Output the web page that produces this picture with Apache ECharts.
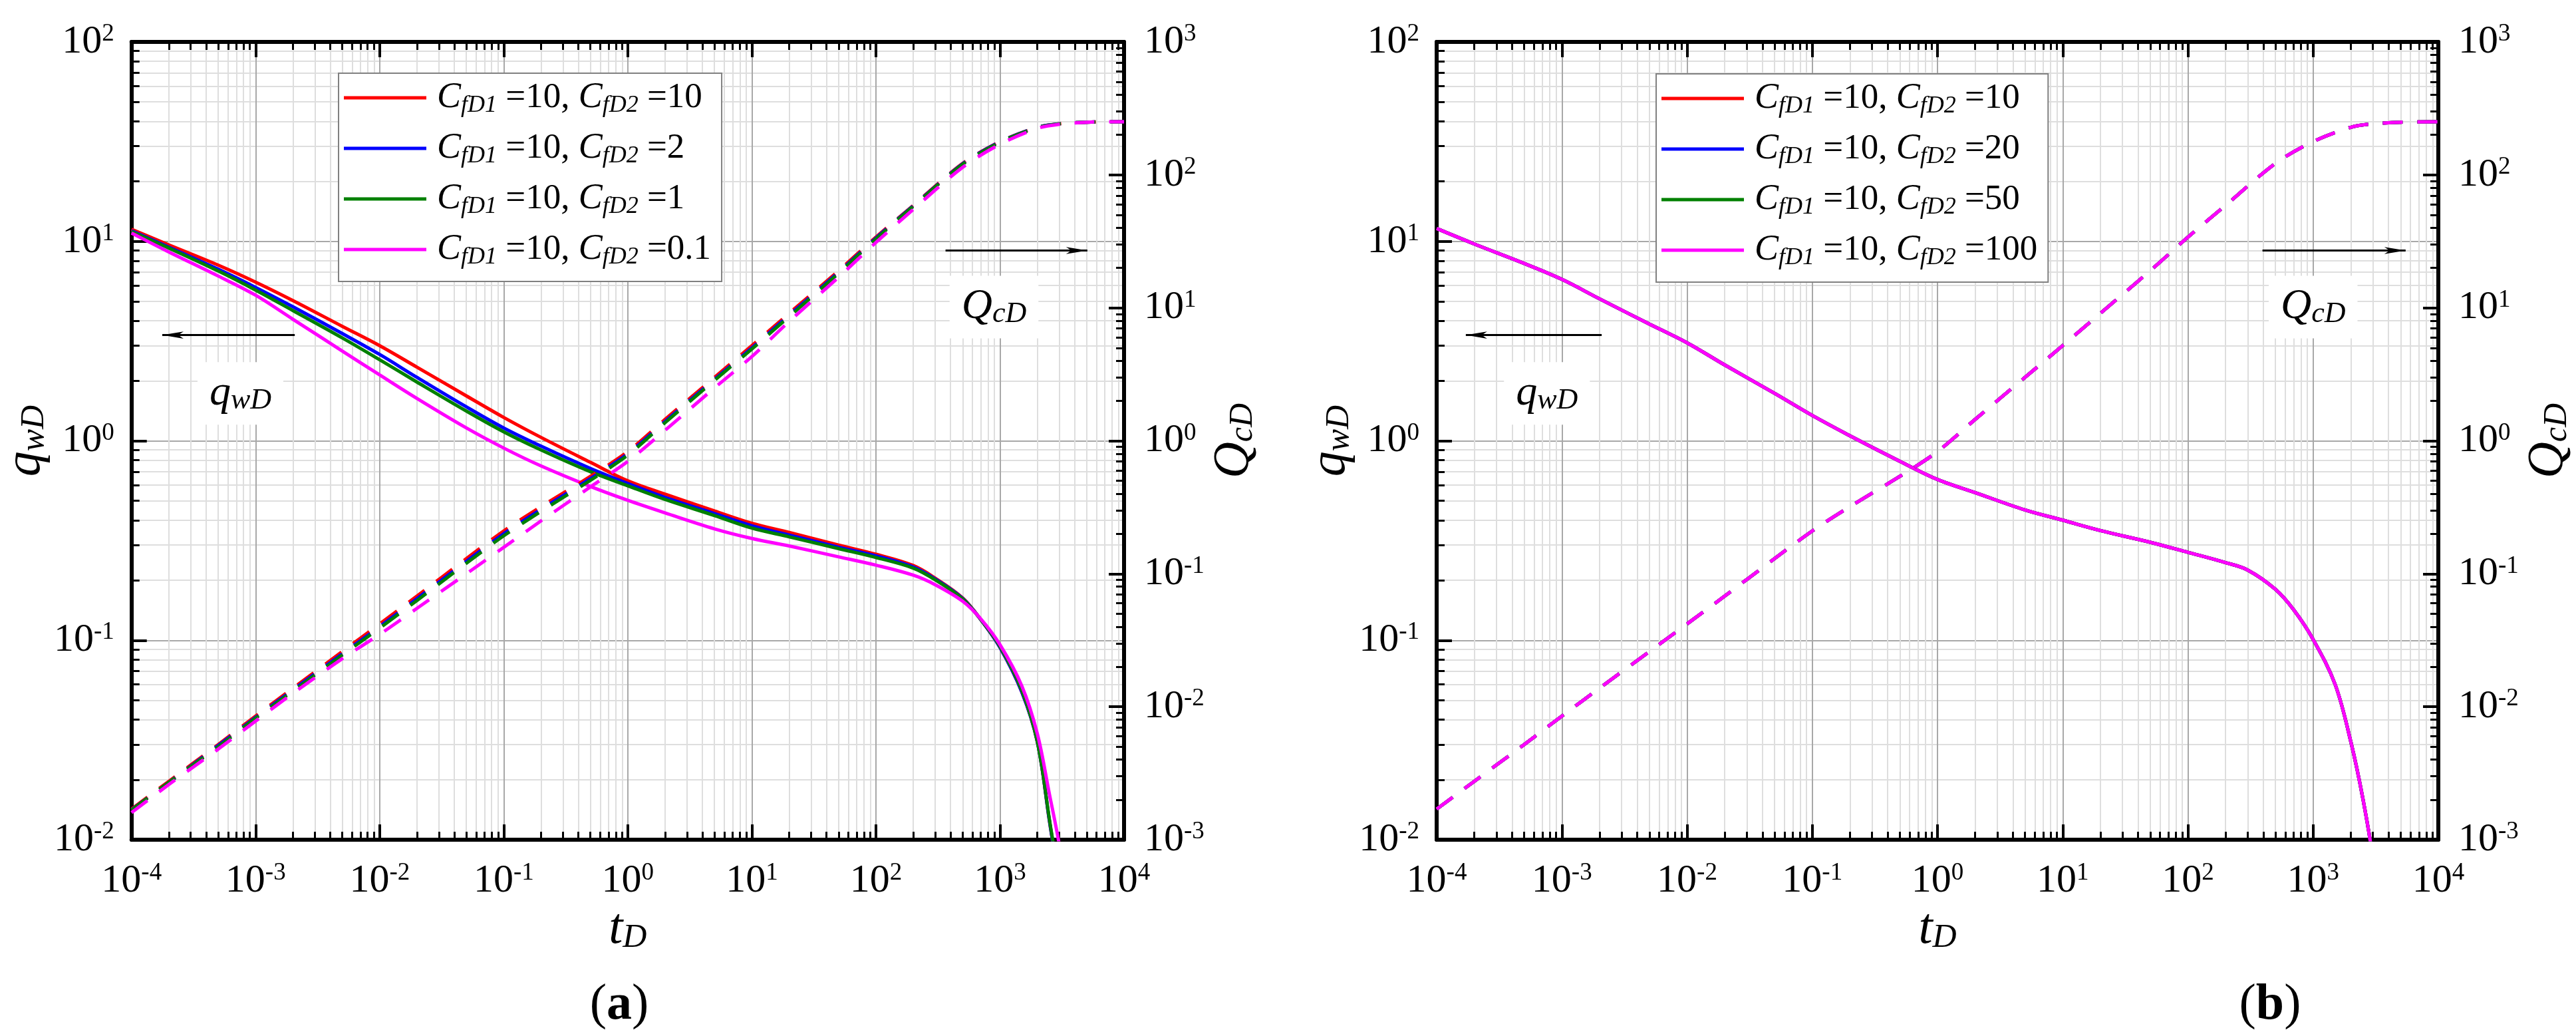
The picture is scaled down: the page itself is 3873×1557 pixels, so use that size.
<!DOCTYPE html>
<html><head><meta charset="utf-8">
<script src="https://cdn.jsdelivr.net/npm/echarts@6/dist/echarts.min.js"></script>
<style>html,body{margin:0;padding:0;background:#fff}#c{width:3873px;height:1557px}</style>
</head><body><div id="c"></div>
<script>
// ---------- data ----------
const tq = [1e-4, 2e-4, 5e-4, 1e-3, 2e-3, 5e-3, 1e-2, 2e-2, 5e-2, 0.1, 0.2, 0.5, 1, 2, 5, 10, 20, 50, 100, 200, 300, 500, 700, 1000, 1500, 2000, 2500, 3000, 3500];
const tQ = [1e-4, 2e-4, 5e-4, 1e-3, 2e-3, 5e-3, 1e-2, 2e-2, 5e-2, 0.1, 0.2, 0.5, 1, 2, 5, 10, 20, 50, 100, 200, 500, 1000, 2000, 3000, 5000, 10000];

// (a) qwD
const aq_10 = [11.5, 9.6, 7.6, 6.25, 5.05, 3.75, 3.0, 2.34, 1.68, 1.31, 1.04, 0.78, 0.63, 0.54, 0.445, 0.386, 0.347, 0.30, 0.27, 0.237, 0.205, 0.163, 0.127, 0.092, 0.055, 0.031, 0.0125, 0.0058, 0.002];
const aq_2  = [11.3, 9.35, 7.25, 5.88, 4.7, 3.45, 2.71, 2.08, 1.48, 1.16, 0.94, 0.727, 0.611, 0.52, 0.432, 0.375, 0.337, 0.293, 0.265, 0.233, 0.203, 0.162, 0.127, 0.092, 0.055, 0.031, 0.0125, 0.0058, 0.002];
const aq_1  = [11.2, 9.25, 7.1, 5.7, 4.5, 3.28, 2.55, 1.97, 1.41, 1.11, 0.90, 0.70, 0.595, 0.508, 0.422, 0.365, 0.33, 0.288, 0.26, 0.23, 0.201, 0.161, 0.127, 0.093, 0.056, 0.031, 0.0127, 0.006, 0.0021];
const aq_01 = [11.0, 8.85, 6.7, 5.37, 4.07, 2.82, 2.14, 1.63, 1.16, 0.92, 0.748, 0.59, 0.503, 0.435, 0.362, 0.324, 0.297, 0.262, 0.238, 0.212, 0.19, 0.157, 0.128, 0.095, 0.059, 0.034, 0.017, 0.0095, 0.005];
// (a) QcD
const aQ_10 = [0.0017, 0.00275, 0.0052, 0.0085, 0.0138, 0.026, 0.042, 0.068, 0.13, 0.21, 0.32, 0.54, 0.83, 1.45, 3.0, 5.2, 9.1, 19, 34, 59, 122, 178, 228, 242, 249, 251];
const aQ_2  = [0.00168, 0.0027, 0.0051, 0.0083, 0.0134, 0.025, 0.040, 0.065, 0.124, 0.20, 0.305, 0.52, 0.80, 1.40, 2.9, 5.0, 8.8, 18.5, 33.5, 58.5, 121, 177, 228, 242, 249, 251];
const aQ_1  = [0.00167, 0.0027, 0.005, 0.0082, 0.0131, 0.0245, 0.039, 0.063, 0.12, 0.193, 0.295, 0.505, 0.78, 1.37, 2.85, 4.9, 8.6, 18.2, 33, 58, 120, 176, 227, 242, 249, 251];
const aQ_01 = [0.0016, 0.0026, 0.0048, 0.0078, 0.0126, 0.023, 0.035, 0.055, 0.1, 0.158, 0.25, 0.45, 0.70, 1.2, 2.5, 4.3, 7.9, 17, 31, 55, 114, 170, 224, 240, 249, 251];

// (b) qwD (curves coincide)
const bq_10  = [11.6, 9.7, 7.75, 6.45, 5.15, 3.85, 3.1, 2.4, 1.73, 1.34, 1.06, 0.79, 0.64, 0.55, 0.45, 0.40, 0.355, 0.31, 0.276, 0.245, 0.225, 0.18, 0.142, 0.101, 0.06, 0.031, 0.016, 0.008, 0.003];
const bq_20  = [11.6, 9.7, 7.75, 6.45, 5.15, 3.85, 3.1, 2.4, 1.73, 1.34, 1.06, 0.79, 0.64, 0.55, 0.45, 0.40, 0.355, 0.31, 0.276, 0.245, 0.225, 0.18, 0.142, 0.101, 0.06, 0.031, 0.016, 0.008, 0.003];
const bq_50  = [11.6, 9.7, 7.75, 6.45, 5.15, 3.85, 3.1, 2.4, 1.73, 1.34, 1.06, 0.79, 0.64, 0.55, 0.45, 0.40, 0.355, 0.31, 0.276, 0.245, 0.225, 0.18, 0.142, 0.101, 0.06, 0.031, 0.016, 0.008, 0.003];
const bq_100 = [11.6, 9.7, 7.75, 6.45, 5.15, 3.85, 3.1, 2.4, 1.73, 1.34, 1.06, 0.79, 0.64, 0.55, 0.45, 0.40, 0.355, 0.31, 0.276, 0.245, 0.225, 0.18, 0.142, 0.101, 0.06, 0.031, 0.016, 0.008, 0.003];
// (b) QcD
const bQ_10  = [0.0017, 0.00275, 0.0052, 0.0085, 0.0138, 0.026, 0.042, 0.068, 0.13, 0.21, 0.32, 0.54, 0.83, 1.45, 3.0, 5.2, 9.1, 19, 34, 59, 122, 178, 228, 242, 249, 251];
const bQ_20  = [0.0017, 0.00275, 0.0052, 0.0085, 0.0138, 0.026, 0.042, 0.068, 0.13, 0.21, 0.32, 0.54, 0.83, 1.45, 3.0, 5.2, 9.1, 19, 34, 59, 122, 178, 228, 242, 249, 251];
const bQ_50  = [0.0017, 0.00275, 0.0052, 0.0085, 0.0138, 0.026, 0.042, 0.068, 0.13, 0.21, 0.32, 0.54, 0.83, 1.45, 3.0, 5.2, 9.1, 19, 34, 59, 122, 178, 228, 242, 249, 251];
const bQ_100 = [0.0017, 0.00275, 0.0052, 0.0085, 0.0138, 0.026, 0.042, 0.068, 0.13, 0.21, 0.32, 0.54, 0.83, 1.45, 3.0, 5.2, 9.1, 19, 34, 59, 122, 178, 228, 242, 249, 251];

const legendA = ['10', '2', '1', '0.1'];
const legendB = ['10', '20', '50', '100'];
const colors = ['#ff0000', '#0000ff', '#008000', '#ff00ff'];

// tick exponents
const xExp = [-4, -3, -2, -1, 0, 1, 2, 3, 4];
const qExp = [-2, -1, 0, 1, 2];
const QExp = [-3, -2, -1, 0, 1, 2, 3];

// ---------- helpers ----------
const FONT = 'Liberation Serif';
const p10 = e => parseFloat('1e' + e);
const majors = exps => exps.map(p10);
const minors = exps => { const a = []; for (let k = 0; k < exps.length - 1; k++) for (let m = 2; m <= 9; m++) a.push(parseFloat(m + 'e' + exps[k])); return a; };
const supFmt = v => '{b|10}{s|' + Math.round(Math.log10(v)) + '}';
const supRich = {
  b: { fontSize: 60, lineHeight: 60, fontFamily: FONT, color: '#000' },
  s: { fontSize: 37, lineHeight: 30, verticalAlign: 'top', fontFamily: FONT, color: '#000' }
};
const nameRich = {
  i: { fontSize: 76, lineHeight: 76, fontStyle: 'italic', fontFamily: FONT, color: '#000' },
  s: { fontSize: 50, lineHeight: 26, fontStyle: 'italic', verticalAlign: 'bottom', fontFamily: FONT, color: '#000' }
};
const annRich = {
  i: { fontSize: 64, lineHeight: 66, fontStyle: 'italic', fontFamily: FONT, color: '#000' },
  s: { fontSize: 44, lineHeight: 22, fontStyle: 'italic', verticalAlign: 'bottom', fontFamily: FONT, color: '#000' }
};
const legRich = {
  g: { width: 11, fontSize: 10 },
  i: { fontSize: 54, lineHeight: 60, fontStyle: 'italic', fontFamily: FONT, color: '#000' },
  s: { fontSize: 36, lineHeight: 18, fontStyle: 'italic', verticalAlign: 'bottom', fontFamily: FONT, color: '#000' },
  n: { fontSize: 53, lineHeight: 60, fontFamily: FONT, color: '#000' }
};
const legFmt = name => { const v = name.split('-')[1]; return '{g| }{i|C}{s|fD1}{n| =10, }{i|C}{s|fD2}{n| =' + v + '}'; };

const tickMaj = { color: '#000', width: 4 };
const tickMin = { color: '#000', width: 3 };
const gridMaj = { color: '#a8a8a8', width: 2 };
const gridMin = { color: '#dedede', width: 2 };
const axLine = { show: true, onZero: false, lineStyle: { color: '#000', width: 6 } };

function axisSet(gi, dim) {
  const isX = dim === 'x';
  const exps = isX ? xExp : qExp;
  const base = { type: 'log', logBase: 10, gridIndex: gi, min: p10(exps[0]), max: p10(exps[exps.length - 1]), axisPointer: { show: false } };
  const pos1 = isX ? 'bottom' : 'left', pos2 = isX ? 'top' : 'right';
  const minV = minors(exps), majV = majors(exps);
  const list = [
    Object.assign({}, base, { position: pos1, axisLine: { show: false }, axisLabel: { show: false },
      axisTick: { show: true, inside: true, length: 12, customValues: minV, lineStyle: tickMin },
      splitLine: { show: true, lineStyle: gridMin } }),
    Object.assign({}, base, { position: pos2, axisLine: { show: false }, axisLabel: { show: false },
      axisTick: { show: true, inside: true, length: 12, customValues: minV, lineStyle: tickMin }, splitLine: { show: false } }),
    Object.assign({}, base, { position: pos1, axisLine: axLine,
      axisTick: { show: true, inside: true, length: 23, customValues: majV, lineStyle: tickMaj },
      axisLabel: { show: true, customValues: majV, formatter: supFmt, rich: supRich, margin: isX ? 32 : 26 },
      splitLine: { show: true, lineStyle: gridMaj },
      name: isX ? '{i|t}{s|D}' : '{i|q}{s|wD}', nameLocation: 'middle', nameGap: isX ? 86 : 96,
      nameRotate: isX ? 0 : 90, nameTextStyle: { rich: nameRich } }),
  ];
  if (isX) {
    list.push(Object.assign({}, base, { position: pos2, axisLine: axLine,
      axisTick: { show: true, inside: true, length: 23, customValues: majV, lineStyle: tickMaj },
      axisLabel: { show: false }, splitLine: { show: false } }));
  } else {
    const QmajV = majors(QExp);
    list[1] = Object.assign({}, base, { position: 'right', min: p10(QExp[0]), max: p10(QExp[QExp.length - 1]),
      axisLine: { show: false }, axisLabel: { show: false },
      axisTick: { show: true, inside: true, length: 12, customValues: minors(QExp), lineStyle: tickMin }, splitLine: { show: false } });
    list.push(Object.assign({}, base, { position: 'right', min: p10(QExp[0]), max: p10(QExp[QExp.length - 1]), axisLine: axLine,
      axisTick: { show: true, inside: true, length: 23, customValues: QmajV, lineStyle: tickMaj },
      axisLabel: { show: true, customValues: QmajV, formatter: supFmt, rich: supRich, margin: 30 },
      splitLine: { show: false },
      name: '{i|Q}{s|cD}', nameLocation: 'middle', nameGap: 128, nameRotate: 90, nameTextStyle: { rich: nameRich } }));
  }
  return list;
}

const xAxes = [].concat(axisSet(0, 'x'), axisSet(1, 'x'));
const yAxes = [].concat(axisSet(0, 'y'), axisSet(1, 'y'));

const pairs = (t, v) => t.map((x, i) => [x, v[i]]);

function annotations(arrows, labels) {
  return {
    markLine: { silent: true, animation: false, symbol: ['none', 'arrow'], symbolSize: [8, 32],
      lineStyle: { color: '#000', width: 3, type: 'solid' }, label: { show: false }, emphasis: { disabled: true },
      data: arrows.map(a => [{ coord: a[0] }, { coord: a[1] }]) },
    markPoint: { silent: true, animation: false, symbol: 'rect', symbolSize: 1, itemStyle: { color: 'rgba(0,0,0,0)' },
      label: { show: true, position: 'inside', backgroundColor: '#fff', padding: [14, 18], rich: annRich },
      data: labels.map(l => ({ coord: l[0], label: { formatter: l[1] } })) }
  };
}

const series = [];
function addPlot(prefix, gi, labelsArr, qArrs, QArrs, ann) {
  const xi = gi * 4 + 2, yq = gi * 4 + 2, yQ = gi * 4 + 3;
  qArrs.forEach((arr, k) => {
    const s = { type: 'line', name: prefix + '-' + labelsArr[k], xAxisIndex: xi, yAxisIndex: yq,
      data: pairs(tq, arr), symbol: 'none', showSymbol: false, smooth: 0.35,
      lineStyle: { color: colors[k], width: 5 }, itemStyle: { color: colors[k] }, z: 3 };
    if (k === 0) Object.assign(s, ann);
    series.push(s);
  });
  QArrs.forEach((arr, k) => {
    series.push({ type: 'line', name: prefix + 'Q-' + labelsArr[k], xAxisIndex: xi, yAxisIndex: yQ,
      data: pairs(tQ, arr), symbol: 'none', showSymbol: false, smooth: 0.3,
      lineStyle: { color: colors[k], width: 5, type: [30, 22] }, itemStyle: { color: colors[k] }, z: 3 });
  });
}

addPlot('a', 0, legendA, [aq_10, aq_2, aq_1, aq_01], [aQ_10, aQ_2, aQ_1, aQ_01],
  annotations([[[2.07e-3, 3.39], [1.77e-4, 3.39]], [[364, 9], [5060, 9]]],
              [[[7.55e-4, 1.73], '{i|q}{s|wD}'], [[895, 4.68], '{i|Q}{s|cD}']]));
addPlot('b', 1, legendB, [bq_10, bq_20, bq_50, bq_100], [bQ_10, bQ_20, bQ_50, bQ_100],
  annotations([[[2.08e-3, 3.39], [1.71e-4, 3.39]], [[394, 9], [5480, 9]]],
              [[[7.6e-4, 1.73], '{i|q}{s|wD}'], [[1000, 4.68], '{i|Q}{s|cD}']]));

const legendBase = { orient: 'vertical', icon: 'rect', itemWidth: 124, itemHeight: 5, itemGap: 19, padding: [10, 16, 18, 8],
  borderColor: '#808080', borderWidth: 2, backgroundColor: '#fff', selectedMode: false, formatter: legFmt,
  textStyle: { fontFamily: FONT, fontSize: 52, color: '#000', rich: legRich } };

const option = {
  animation: false,
  backgroundColor: '#fff',
  textStyle: { fontFamily: FONT },
  grid: [
    { left: 180, top: 63, width: 1510, height: 1199, containLabel: false },
    { left: 2160, top: 63, width: 1506, height: 1199, containLabel: false }
  ],
  xAxis: xAxes,
  yAxis: yAxes,
  legend: [
    Object.assign({}, legendBase, { left: 509, top: 110, data: legendA.map(v => 'a-' + v) }),
    Object.assign({}, legendBase, { left: 2490, top: 111, data: legendB.map(v => 'b-' + v) })
  ],
  graphic: [
    { type: 'text', x: 931, y: 1511, style: { text: '{p|(}{b|a}{p|)}', align: 'center', verticalAlign: 'middle',
      rich: { p: { fontSize: 76, fontFamily: FONT, fill: '#000' }, b: { fontSize: 76, fontWeight: 'bold', fontFamily: FONT, fill: '#000' } } } },
    { type: 'text', x: 3413, y: 1511, style: { text: '{p|(}{b|b}{p|)}', align: 'center', verticalAlign: 'middle',
      rich: { p: { fontSize: 76, fontFamily: FONT, fill: '#000' }, b: { fontSize: 76, fontWeight: 'bold', fontFamily: FONT, fill: '#000' } } } }
  ],
  series: series
};

const chart = echarts.init(document.getElementById('c'));
chart.setOption(option);
</script>
</body></html>
